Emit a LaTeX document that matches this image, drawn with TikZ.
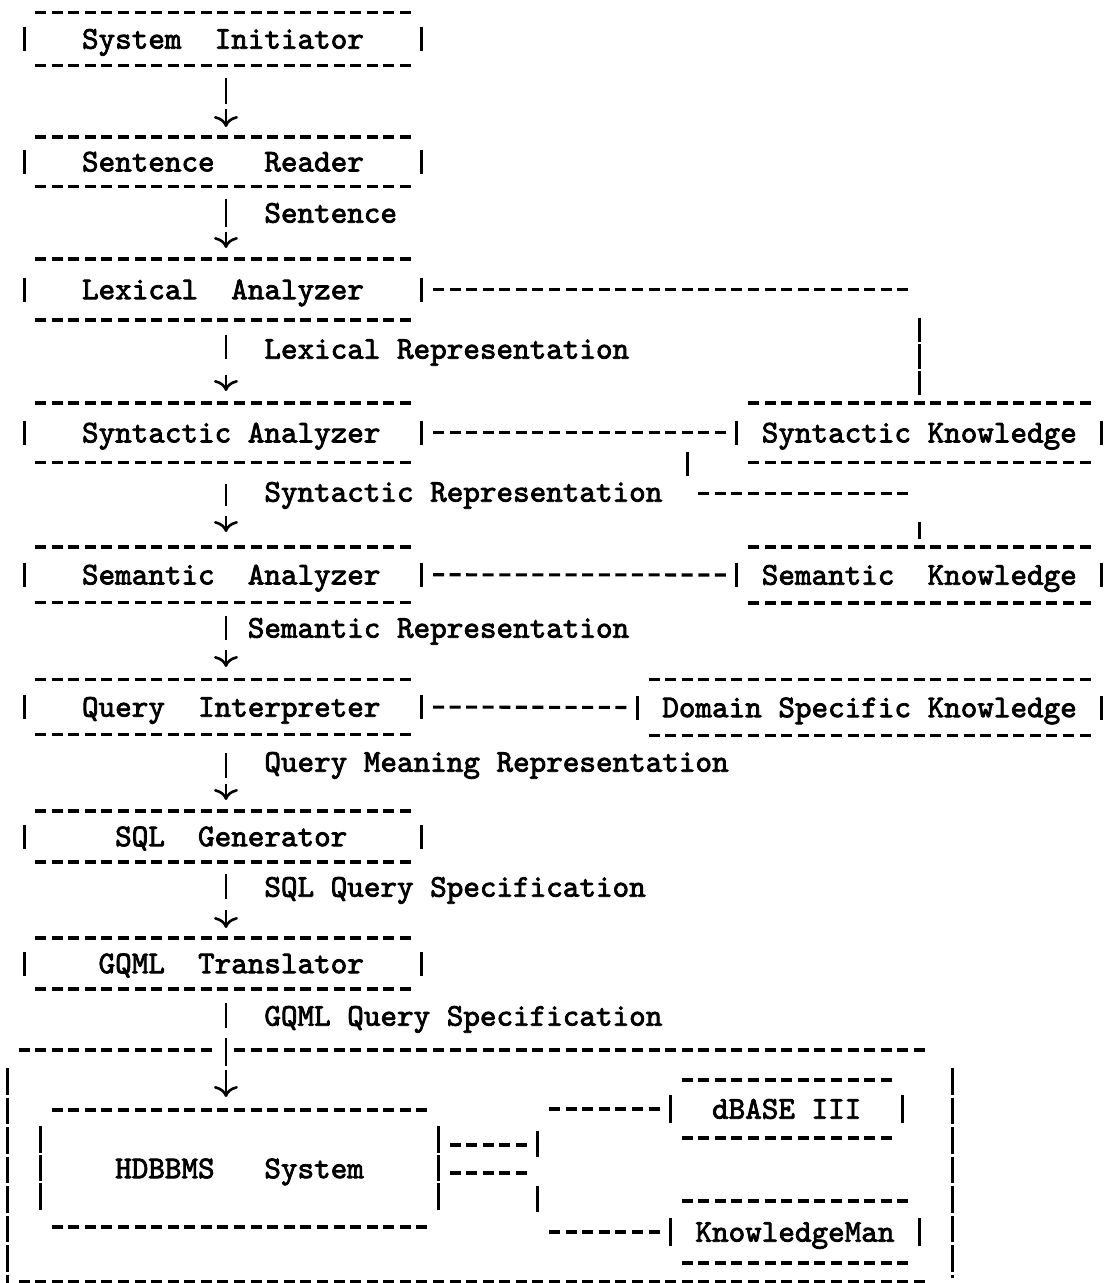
\documentclass[tikz,border=0pt]{standalone}
\usepackage{fontspec}
\usetikzlibrary{arrows.meta}

% typewriter face: one character cell is 16.58pt wide, spaces included
\newfontfamily\tyfam{lmmono10-regular.otf}[FakeBold=2.5]
\newcommand\tyfont{\tyfam\fontsize{31.58pt}{36pt}\selectfont
  \fontdimen2\font=16.58pt\fontdimen3\font=0pt\fontdimen4\font=0pt}

% hyphen rows and bar glyphs of a typed chart
\tikzset{
  hy/.style={line width=3.1pt, dash pattern=on 11pt off 5.58pt},
  vb/.style={line width=3pt},
  rowbars/.style={dash pattern=on 26.5pt off 2pt},
  tbox/.style n args={2}{font=\tyfont, inner sep=0pt, outer sep=0pt,
    text width=#1, align=flush left, text height=19.3pt, text depth=0pt,
    minimum height=#2},
  lbl/.style={font=\tyfont, inner sep=0pt, outer sep=0pt, anchor=west,
    text height=19.3pt, text depth=0pt},
  flow/.style={line width=2.6pt, -{To[length=11pt,width=24pt]}}
}

% dashed top and bottom rows plus a bar one cell outside each side
\newcommand\frameit[3]{%
  \draw[hy] ([xshift=2.79pt]#1.north west) -- ([xshift=-2.79pt]#1.north east);
  \draw[hy] ([xshift=2.79pt]#1.south west) -- ([xshift=-2.79pt]#1.south east);
  \draw[vb,#3] ([xshift=-8.29pt,yshift=#2]#1.west) -- ([xshift=-8.29pt,yshift=-#2]#1.west);
  \draw[vb,#3] ([xshift=8.29pt,yshift=#2]#1.east) -- ([xshift=8.29pt,yshift=-#2]#1.east);
}

\begin{document}
\begin{tikzpicture}[x=1pt,y=-1pt]
\fill[white] (0,0) rectangle (1108,1283);
\useasboundingbox (0,0) rectangle (1108,1283);

% ---------- main pipeline ----------
\node[tbox={381.34pt}{53pt}]   (sysinit)  at (222.96,39)     {~~~System~~Initiator};
\node[tbox={381.34pt}{49.5pt}] (sentread) at (222.96,161.75) {~~~Sentence~~~Reader};
\node[tbox={381.34pt}{61pt}]   (lexan)    at (222.96,289.5)  {~~~Lexical~~Analyzer};
\node[tbox={381.34pt}{59.5pt}] (synan)    at (222.96,432.75) {~~~Syntactic~Analyzer};
\node[tbox={381.34pt}{55.5pt}] (seman)    at (222.96,574.75) {~~~Semantic~~Analyzer};
\node[tbox={381.34pt}{55pt}]   (queryint) at (222.96,707)    {~~~Query~~Interpreter};
\node[tbox={381.34pt}{51pt}]   (sqlgen)   at (222.96,836.5)  {~~~~~SQL~~Generator};
\node[tbox={381.34pt}{51pt}]   (gqml)     at (222.96,963.5)  {~~~~GQML~~Translator};
\foreach \b in {sysinit,sentread,lexan,synan,seman,queryint,sqlgen,gqml}
  {\frameit{\b}{12pt}{}}

% ---------- knowledge sources ----------
\node[tbox={348.18pt}{59.5pt}] (synk) at (919.32,432.75) {~Syntactic~Knowledge};
\node[tbox={348.18pt}{56pt}]   (semk) at (919.32,575)    {~Semantic~~Knowledge};
\node[tbox={447.66pt}{56pt}]   (domk) at (869.58,707.5)  {~Domain~Specific~Knowledge};
\foreach \b in {synk,semk,domk} {\frameit{\b}{12pt}{}}

% ---------- database back end ----------
\node[inner sep=0pt, outer sep=0pt, minimum width=911.9pt, minimum height=231pt]
  (backend) at (471.66,1165.5) {};
\node[tbox={381.34pt}{117pt}] (hdb)   at (239.54,1168.5) {~~~~HDBBMS~~~System};
\node[tbox={215.54pt}{58pt}]  (dbase) at (786.68,1109)   {~~dBASE~III};
\node[tbox={232.12pt}{62pt}]  (kman)  at (794.97,1232)   {~KnowledgeMan};
\frameit{hdb}{42.5pt}{rowbars}
\frameit{dbase}{14pt}{}
\frameit{kman}{14pt}{}

% enclosing frame of the back end, open where the flow enters
\draw[hy] ([xshift=2.79pt]backend.north west) -- ++(193.38,0)
          ([xshift=218.33pt]backend.north west) -- ([xshift=-2.79pt]backend.north east);
\draw[hy] ([xshift=2.79pt,yshift=-0.5pt]backend.south west) -- ([xshift=-2.79pt,yshift=-0.5pt]backend.south east);
\draw[vb, dash pattern=on 26.5pt off 3pt] ([xshift=-8.29pt,yshift=-18pt]backend.north west) -- ++(0,240);
\draw[vb, dash pattern=on 26.5pt off 3pt] ([xshift=24.87pt,yshift=-18pt]backend.north east) -- ++(0,210);

% ---------- flow between the stages ----------
\draw[flow, shorten <=12pt,   shorten >=10pt,   dash pattern=on 26.5pt off 5pt on 300pt]
  ([xshift=3pt]sysinit.south) -- ([xshift=3pt]sentread.north);
\draw[flow, shorten <=12.5pt, shorten >=11pt,   dash pattern=on 28pt off 5pt on 300pt]
  ([xshift=3pt]sentread.south) -- ([xshift=3pt]lexan.north);
\draw[flow, shorten <=15pt,   shorten >=12pt,   dash pattern=on 24pt off 16pt on 300pt]
  ([xshift=3pt]lexan.south) -- ([xshift=3pt]synan.north);
\draw[flow, shorten <=21.5pt, shorten >=15pt,   dash pattern=on 22pt off 10pt on 300pt]
  ([xshift=3pt]synan.south) -- ([xshift=3pt]seman.north);
\draw[flow, shorten <=13.5pt, shorten >=12.5pt, dash pattern=on 24pt off 10pt on 300pt]
  ([xshift=3pt]seman.south) -- ([xshift=3pt]queryint.north);
\draw[flow, shorten <=18.5pt, shorten >=11pt,   dash pattern=on 25pt off 6pt on 300pt]
  ([xshift=3pt]queryint.south) -- ([xshift=3pt]sqlgen.north);
\draw[flow, shorten <=12pt,   shorten >=10pt,   dash pattern=on 25pt off 11pt on 300pt]
  ([xshift=3pt]sqlgen.south) -- ([xshift=3pt]gqml.north);
\draw[flow, shorten <=14pt,   shorten >=13pt,   dash pattern=on 25pt off 10pt on 28pt off 4pt on 300pt]
  ([xshift=3pt]gqml.south) -- ([xshift=3pt]gqml.south |- hdb.north);

\node[lbl] (lsent) at (264.41,213)  {Sentence};
\node[lbl] (llex)  at (264.41,349)  {Lexical Representation};
\node[lbl] (lsyn)  at (264.41,492)  {Syntactic Representation};
\node[lbl] (lsem)  at (247.83,628)  {Semantic Representation};
\node[lbl] (lqm)   at (264.41,762)  {Query Meaning Representation};
\node[lbl] (lsql)  at (264.41,887)  {SQL Query Specification};
\node[lbl] (lgq)   at (264.41,1016) {GQML Query Specification};

% ---------- links to the knowledge sources ----------
\coordinate (lexturn) at (lexan.east -| synk.north);
\draw[hy, shorten <=19.37pt, shorten >=11.08pt] (lexan.east) -- (lexturn);
\draw[vb, shorten <=28pt, shorten >=8pt, dash pattern=on 24.5pt off 2pt] (lexturn) -- (synk.north);

\draw[hy, shorten <=19.37pt, shorten >=19.37pt] (synan.east) -- (synk.west);
\draw[hy, shorten <=19.37pt, shorten >=19.37pt] (seman.east) -- (semk.west);
\draw[hy, shorten <=19.37pt, shorten >=19.37pt] (queryint.east) -- (domk.west);

\coordinate (synjoin) at ([xshift=273.57pt]synan.east);
\coordinate (synbend) at ([yshift=-60.75pt]synjoin);
\draw[vb] ([yshift=-19pt]synjoin) -- ([yshift=-43pt]synjoin);
\draw[hy, shorten <=11.08pt, shorten >=11.08pt] (synbend) -- (synbend -| semk.north);
\draw[vb, shorten <=28pt, shorten >=8pt] (synbend -| semk.north) -- (semk.north);

% ---------- links to the database systems ----------
\coordinate (dblink) at (537.98,1145);
\coordinate (kmlink) at (537.98,1173);
\draw[hy, shorten <=19.37pt, shorten >=11.08pt] (hdb.east |- dblink) -- (dblink);
\draw[vb] ([yshift=14pt]dblink) -- ([yshift=-12pt]dblink);
\draw[hy, shorten <=11.08pt, shorten >=19.37pt] (dblink |- dbase.west) -- (dbase.west);
\draw[hy, shorten <=19.37pt, shorten >=11.08pt] (hdb.east |- kmlink) -- (kmlink);
\draw[vb] ([yshift=-13pt]kmlink) -- ([yshift=-39pt]kmlink);
\draw[hy, shorten <=11.08pt, shorten >=19.37pt] (kmlink |- kman.west) -- (kman.west);
\end{tikzpicture}
\end{document}
